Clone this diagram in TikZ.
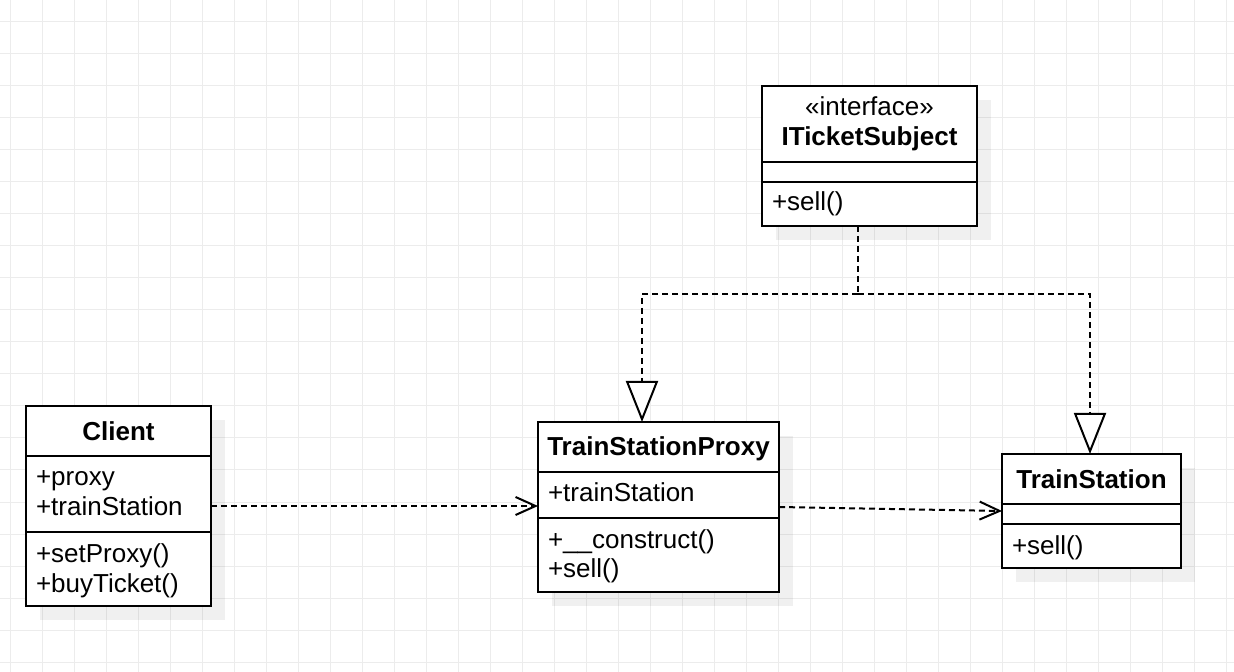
\documentclass[tikz,border=0pt]{standalone}
\usepackage{fontspec}
\setmainfont{Liberation Sans}
\usetikzlibrary{arrows.meta,shadows}
\definecolor{umlgrid}{gray}{0.925}

\begin{document}
\begin{tikzpicture}[x=0.5pt,y=-0.5pt,line width=1pt,font=\fontsize{13pt}{15pt}\selectfont,
  gridline/.style={umlgrid,line width=0.5pt},
  box/.style={draw,fill=white,inner sep=0,outer sep=0,drop shadow={shadow xshift=7pt,shadow yshift=-7pt,fill=black,opacity=.06}},
  title/.style={anchor=base,inner sep=0,font=\fontsize{13pt}{15pt}\selectfont\bfseries},
  member/.style={anchor=base west,inner sep=0},
  dep/.style={dash pattern=on 3pt off 2pt,-{Straight Barb[length=10pt,width=9pt]}},
  real/.style={dash pattern=on 3pt off 2pt,-{Triangle[length=20.5pt,width=16pt,fill=white]}}]
  \useasboundingbox (0,0) rectangle (1234,672);
  \fill[white] (0,0) rectangle (1234,672);
  \foreach \gx in {10,42,...,1234} \draw[gridline] (\gx,0) -- (\gx,672);
  \foreach \gy in {22,54,...,672} \draw[gridline] (0,\gy) -- (1234,\gy);

  \node[box,minimum width=107.5pt,minimum height=70pt] (iface) at (869.5,156) {};
  \draw (762,162) -- (977,162);
  \draw (762,182) -- (977,182);
  \node[anchor=base,inner sep=0] (ifacestereo) at (869.5,116) {«interface»};
  \node[title] (ifacename) at (869.5,146) {ITicketSubject};
  \node[member] (ifacesell) at (771,211) {+sell()};

  \node[box,minimum width=92.5pt,minimum height=100pt] (client) at (118.5,506) {};
  \draw (26,456) -- (211,456);
  \draw (26,532) -- (211,532);
  \node[title] (clientname) at (118.5,441) {Client};
  \node[member] (clientproxy) at (35,486) {+proxy};
  \node[member] (clientstation) at (35,516) {+trainStation};
  \node[member] (clientset) at (35,562) {+setProxy()};
  \node[member] (clientbuy) at (35,592) {+buyTicket()};

  \node[box,minimum width=120.5pt,minimum height=85pt] (proxy) at (658.5,507) {};
  \draw (538,472) -- (779,472);
  \draw (538,518) -- (779,518);
  \node[title] (proxyname) at (658.5,456) {TrainStationProxy};
  \node[member] (proxystation) at (547,502) {+trainStation};
  \node[member] (proxyconstruct) at (547,548) {+\_\_construct()};
  \node[member] (proxysell) at (547,577) {+sell()};

  \node[box,minimum width=89.5pt,minimum height=57pt] (station) at (1091.5,511) {};
  \draw (1002,504) -- (1181,504);
  \draw (1002,524) -- (1181,524);
  \node[title] (stationname) at (1091.5,488) {TrainStation};
  \node[member] (stationsell) at (1011,554) {+sell()};

  \coordinate (split) at (858,294);
  \draw[dash pattern=on 3pt off 2pt] (iface.south -| split) -- (split);
  \draw[real] (split) -| ([xshift=-8.25pt]proxy.north);
  \draw[real] (split) -| ([xshift=-0.75pt]station.north);
  \draw[dep] (client.east) -- (client.east -| proxy.west);
  \draw[dep] (proxy.east) -- (station.west);
\end{tikzpicture}
\end{document}
